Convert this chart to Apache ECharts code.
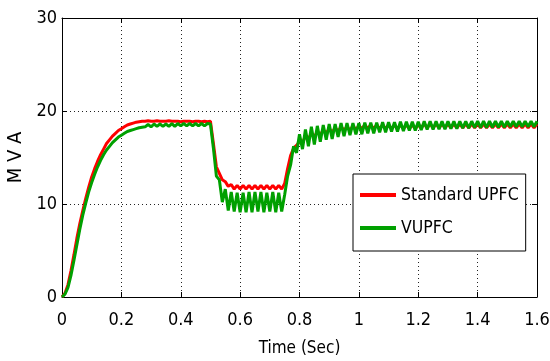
<!DOCTYPE html>
<html>
<head>
<meta charset="utf-8">
<script src="https://cdn.jsdelivr.net/npm/echarts@6/dist/echarts.min.js"></script>
<style>html,body{margin:0;padding:0;background:#fff}#c{width:550px;height:361px}</style>
</head>
<body>
<div id="c"></div>
<script>
const seriesNames = ['Standard UPFC', 'VUPFC'];
const xTicks = [0, 0.2, 0.4, 0.6, 0.8, 1, 1.2, 1.4, 1.6];
const yTicks = [0, 10, 20, 30];
const time = [0,0.01,0.02,0.03,0.04,0.05,0.06,0.07,0.08,0.09,
0.1,0.11,0.12,0.13,0.14,0.15,0.16,0.17,0.18,0.19,
0.2,0.21,0.22,0.23,0.24,0.25,0.26,0.27,0.28,0.29,
0.3,0.31,0.32,0.33,0.34,0.35,0.36,0.37,0.38,0.39,
0.4,0.41,0.42,0.43,0.44,0.45,0.46,0.47,0.48,0.49,
0.5,0.51,0.52,0.53,0.54,0.55,0.56,0.57,0.58,0.59,
0.6,0.61,0.62,0.63,0.64,0.65,0.66,0.67,0.68,0.69,
0.7,0.71,0.72,0.73,0.74,0.75,0.76,0.77,0.78,0.79,
0.8,0.81,0.82,0.83,0.84,0.85,0.86,0.87,0.88,0.89,
0.9,0.91,0.92,0.93,0.94,0.95,0.96,0.97,0.98,0.99,
1,1.01,1.02,1.03,1.04,1.05,1.06,1.07,1.08,1.09,
1.1,1.11,1.12,1.13,1.14,1.15,1.16,1.17,1.18,1.19,
1.2,1.21,1.22,1.23,1.24,1.25,1.26,1.27,1.28,1.29,
1.3,1.31,1.32,1.33,1.34,1.35,1.36,1.37,1.38,1.39,
1.4,1.41,1.42,1.43,1.44,1.45,1.46,1.47,1.48,1.49,
1.5,1.51,1.52,1.53,1.54,1.55,1.56,1.57,1.58,1.59,1.6];
const standardUPFC = [
0,0.4,1.3,2.8,4.5,6.3,7.9,9.3,10.6,11.8,
12.9,13.8,14.6,15.3,15.9,16.5,16.9,17.3,17.6,17.9,
18.1,18.3,18.5,18.6,18.7,18.8,18.85,
18.9,18.9,18.95,18.9,18.9,18.95,18.9,18.9,18.9,18.95,18.9,18.9,
18.9,18.85,18.9,18.9,18.9,18.85,18.9,18.9,18.85,18.9,18.85,18.9,
16.5,14.0,13.3,12.6,12.4,11.9,
12.1,11.6,12.0,11.6,12.0,11.6,12.0,11.6,12.0,11.6,12.0,11.6,12.0,11.6,12.0,11.6,12.0,11.6,
12.2,13.8,15.2,16.0,16.3,16.7,16.6,17.3,17.0,17.6,
17.2,17.8,17.4,18.0,17.6,18.1,17.7,18.2,17.8,18.3,
17.9,18.3,17.9,18.4,18.0,18.4,
18.1,18.5,18.1,18.5,18.1,18.5,18.1,18.5,18.1,18.5,
18.1,18.5,18.1,18.5,18.1,18.5,18.1,18.5,18.1,18.5,
18.2,18.6,18.2,18.6,18.2,18.6,18.2,18.6,18.2,18.6,
18.2,18.6,18.2,18.6,18.2,18.6,18.2,18.6,18.2,18.6,
18.2,18.6,18.2,18.6,18.2,18.6,18.2,18.6,18.2,18.6,
18.2,18.6,18.2,18.6,18.2,18.6,18.2,18.6,18.2,18.6];
const vUPFC = [
0,0.3,1.0,2.3,3.9,5.6,7.3,8.8,10.1,11.3,
12.3,13.2,14.0,14.7,15.3,15.8,16.2,16.6,16.9,17.2,
17.4,17.6,17.8,17.9,18.0,18.1,18.2,18.25,
18.3,18.55,18.3,18.6,18.35,18.6,18.35,18.6,18.35,18.65,18.35,18.65,
18.4,18.65,18.4,18.65,18.4,18.65,18.4,18.65,18.4,18.65,18.6,
16.0,13.0,12.6,10.2,11.6,
9.3,11.3,9.2,11.2,9.1,11.2,9.1,11.3,9.1,11.3,9.2,11.3,9.1,11.2,9.2,11.3,9.1,11.2,9.2,
11.0,13.0,14.2,16.2,15.5,17.5,15.9,18.0,16.2,18.3,
16.4,18.4,16.7,18.5,16.9,18.6,17.0,18.6,17.2,18.7,
17.3,18.7,17.4,18.7,17.5,18.7,17.5,18.75,17.6,18.75,
17.6,18.75,17.7,18.8,17.7,18.8,17.8,18.8,17.8,18.85,
17.85,18.85,17.9,18.85,17.9,18.85,17.95,18.9,18.0,18.9,
18.0,18.9,18.05,18.9,18.05,18.9,18.1,18.9,18.1,18.9,
18.15,18.9,18.15,18.9,18.2,18.9,18.2,18.9,18.2,18.9,
18.25,18.9,18.25,18.9,18.25,18.9,18.3,18.9,18.3,18.9,
18.3,18.9,18.3,18.9,18.3,18.9];

const FONT = "'DejaVu Sans Condensed', 'Liberation Sans', Arial, sans-serif";
const colors = ['#ff0000', '#00a000'];
const values = [standardUPFC, vUPFC];

const chart = echarts.init(document.getElementById('c'), null, {renderer: 'canvas'});
const gridLine = {show: true, lineStyle: {color: '#222', type: [1, 3], width: 1}};
const fmt = v => String(+(+v).toFixed(1));
chart.setOption({
  animation: false,
  backgroundColor: '#fff',
  grid: {left: 62, right: 13, top: 18, bottom: 64, show: false, containLabel: false, outerBoundsMode: 'none'},
  legend: {
    orient: 'vertical', left: 353, top: 174,
    data: seriesNames, icon: 'rect', itemWidth: 36, itemHeight: 4, itemGap: 11,
    padding: [10, 7, 12, 7], borderColor: '#000', borderWidth: 1, backgroundColor: '#fff',
    textStyle: {fontFamily: FONT, fontSize: 17.5, color: '#000', lineHeight: 22}
  },
  xAxis: [{
    type: 'value', min: xTicks[0], max: xTicks[xTicks.length - 1], interval: 0.2,
    name: 'Time (Sec)', nameLocation: 'middle', nameGap: 43,
    nameTextStyle: {fontFamily: FONT, fontSize: 17, color: '#000'},
    axisLine: {show: true, onZero: false, lineStyle: {color: '#000', width: 1}},
    axisTick: {show: true, inside: true, length: 5, lineStyle: {color: '#000'}},
    axisLabel: {fontFamily: FONT, fontSize: 18, color: '#000', margin: 14, formatter: fmt},
    splitLine: gridLine
  }, {
    type: 'value', position: 'top', min: xTicks[0], max: xTicks[xTicks.length - 1], interval: 0.2,
    axisLine: {show: true, onZero: false, lineStyle: {color: '#000', width: 1}},
    axisTick: {show: true, inside: true, length: 5, lineStyle: {color: '#000'}},
    axisLabel: {show: false}, splitLine: {show: false}
  }],
  yAxis: [{
    type: 'value', min: yTicks[0], max: yTicks[yTicks.length - 1], interval: 10,
    name: 'M V A', nameLocation: 'middle', nameGap: 31, nameRotate: 90,
    nameTextStyle: {fontFamily: FONT, fontSize: 20, color: '#000'},
    axisLine: {show: true, onZero: false, lineStyle: {color: '#000', width: 1}},
    axisTick: {show: true, inside: true, length: 5, lineStyle: {color: '#000'}},
    axisLabel: {fontFamily: FONT, fontSize: 18, color: '#000', margin: 5},
    splitLine: gridLine
  }, {
    type: 'value', position: 'right', min: yTicks[0], max: yTicks[yTicks.length - 1], interval: 10,
    axisLine: {show: true, onZero: false, lineStyle: {color: '#000', width: 1}},
    axisTick: {show: true, inside: true, length: 5, lineStyle: {color: '#000'}},
    axisLabel: {show: false}, splitLine: {show: false}
  }],
  series: seriesNames.map((n, k) => ({
    name: n, type: 'line', xAxisIndex: 0, yAxisIndex: 0,
    showSymbol: false, symbol: 'none',
    color: colors[k],
    lineStyle: {width: 3, color: colors[k]},
    data: time.map((t, i) => [t, values[k][i]])
  }))
});
</script>
</body>
</html>
